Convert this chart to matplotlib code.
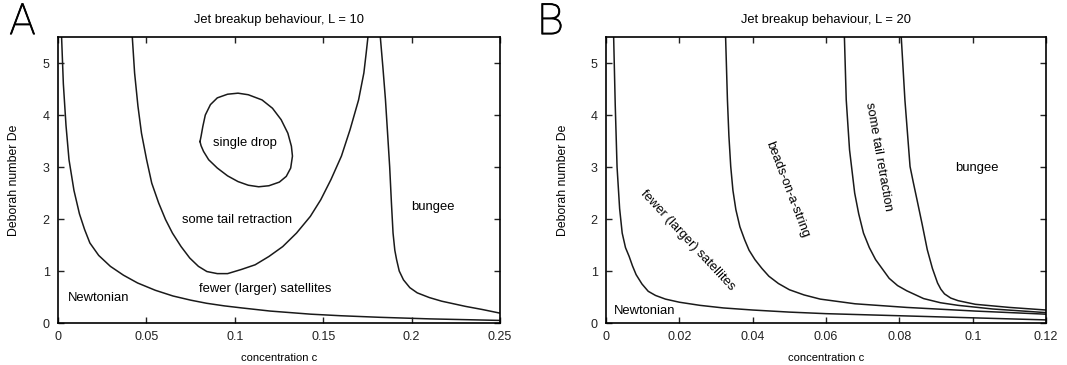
import numpy as np
import matplotlib.pyplot as plt
import matplotlib.patheffects as pe
from matplotlib.ticker import FuncFormatter

plt.rcParams['font.family'] = ['Liberation Sans', 'DejaVu Sans']

# ---- panel A, L = 10 ----
a_newt_c = [0.002, 0.003, 0.0045, 0.0062, 0.009, 0.0121, 0.015, 0.018, 0.023, 0.0296, 0.037,
            0.045, 0.055, 0.065, 0.075, 0.084, 0.094, 0.104, 0.12, 0.143, 0.16, 0.182, 0.21, 0.25]
a_newt_de = [5.5, 4.6, 3.8, 3.14, 2.55, 2.1, 1.8, 1.54, 1.3, 1.09, 0.92,
             0.77, 0.63, 0.52, 0.44, 0.38, 0.33, 0.29, 0.23, 0.17, 0.14, 0.11, 0.08, 0.05]

a_tail_c = [0.042, 0.0433, 0.0452, 0.0472, 0.0501, 0.053, 0.0569, 0.0608, 0.0647, 0.0696,
            0.0745, 0.0794, 0.0842, 0.0901, 0.0959, 0.1037, 0.1115, 0.1193, 0.1271, 0.1349,
            0.1427, 0.1486, 0.1544, 0.1603, 0.1652, 0.17, 0.173, 0.1743, 0.1753]
a_tail_de = [5.5, 4.81, 4.17, 3.65, 3.14, 2.69, 2.31, 1.99, 1.73, 1.47,
             1.25, 1.09, 0.99, 0.95, 0.95, 1.03, 1.12, 1.28, 1.47, 1.73,
             2.05, 2.37, 2.76, 3.21, 3.72, 4.29, 4.81, 5.19, 5.5]

a_drop_c = [0.0803, 0.0809, 0.0819, 0.0833, 0.0862, 0.0901, 0.0959, 0.1018, 0.1076, 0.1154,
            0.1213, 0.1262, 0.13, 0.132, 0.1326, 0.1316, 0.1291, 0.1252, 0.1193, 0.1135,
            0.1076, 0.1018, 0.0959, 0.0901, 0.0852, 0.0823, 0.0809, 0.0803]
a_drop_de = [3.49, 3.59, 3.78, 4.0, 4.2, 4.33, 4.4, 4.42, 4.39, 4.29,
             4.13, 3.91, 3.65, 3.4, 3.21, 2.98, 2.82, 2.71, 2.64, 2.62,
             2.65, 2.72, 2.83, 2.98, 3.14, 3.3, 3.41, 3.49]

a_bung_c = [0.1823, 0.1838, 0.1852, 0.1865, 0.1876, 0.1886, 0.1895, 0.1905, 0.1915, 0.193,
            0.1954, 0.199, 0.2032, 0.21, 0.217, 0.2305, 0.24, 0.25]
a_bung_de = [5.5, 4.9, 4.3, 3.6, 3.0, 2.3, 1.73, 1.4, 1.22, 1.0,
             0.83, 0.68, 0.58, 0.49, 0.42, 0.32, 0.26, 0.19]

# ---- panel B, L = 20 ----
b_newt_c = [0.00207, 0.0025, 0.003, 0.0037, 0.0044, 0.0053, 0.0063, 0.0072, 0.0082, 0.0098,
            0.0115, 0.0135, 0.0162, 0.02, 0.0256, 0.032, 0.04, 0.05, 0.06, 0.07, 0.08,
            0.09, 0.1, 0.11, 0.12]
b_newt_de = [5.5, 4.2, 3.0, 2.2, 1.73, 1.45, 1.28, 1.1, 0.93, 0.75,
             0.61, 0.53, 0.46, 0.4, 0.34, 0.29, 0.25, 0.21, 0.18, 0.16, 0.14,
             0.12, 0.1, 0.08, 0.06]

b_beads_c = [0.0326, 0.0331, 0.0335, 0.034, 0.0346, 0.0354, 0.0365, 0.0378, 0.039, 0.0406,
             0.0425, 0.0444, 0.047, 0.05, 0.054, 0.0584, 0.0679, 0.082, 0.1007, 0.12]
b_beads_de = [5.5, 4.29, 3.6, 3.01, 2.55, 2.18, 1.85, 1.6, 1.4, 1.22,
              1.05, 0.9, 0.76, 0.64, 0.54, 0.46, 0.37, 0.3, 0.23, 0.17]

b_tail_c = [0.065, 0.0655, 0.0664, 0.0678, 0.0689, 0.0702, 0.0718, 0.0735, 0.0772, 0.0795,
            0.082, 0.0866, 0.0912, 0.096, 0.1054, 0.12]
b_tail_de = [5.5, 4.29, 3.33, 2.5, 2.1, 1.73, 1.45, 1.22, 0.86, 0.72,
             0.62, 0.47, 0.39, 0.34, 0.27, 0.2]

b_bung_c = [0.0805, 0.0815, 0.0829, 0.0838, 0.0848, 0.0862, 0.0876, 0.089, 0.0904, 0.0913,
            0.0923, 0.094, 0.096, 0.1007, 0.11, 0.12]
b_bung_de = [5.5, 4.29, 3.01, 2.7, 2.37, 1.9, 1.41, 1.05, 0.77, 0.65,
             0.56, 0.48, 0.43, 0.36, 0.3, 0.25]

fmt = FuncFormatter(lambda v, p: '%g' % v)

fig = plt.figure(figsize=(10.67, 3.65), dpi=100)
axA = fig.add_axes([0.0544, 0.115, 0.4142, 0.7836])
axB = fig.add_axes([0.568, 0.115, 0.4124, 0.7836])

for ax, curves in [(axA, [(a_newt_c, a_newt_de), (a_tail_c, a_tail_de),
                          (a_drop_c, a_drop_de), (a_bung_c, a_bung_de)]),
                   (axB, [(b_newt_c, b_newt_de), (b_beads_c, b_beads_de),
                          (b_tail_c, b_tail_de), (b_bung_c, b_bung_de)])]:
    for c, de in curves:
        ax.plot(c, de, color='#1a1a1a', lw=1.1, solid_joinstyle='round')
    ax.set_ylim(0, 5.5)
    ax.set_yticks([0, 1, 2, 3, 4, 5])
    ax.xaxis.set_major_formatter(fmt)
    ax.tick_params(direction='in', length=4, width=1, top=True, right=True,
                   labelsize=9, pad=6, colors='#222222')
    for s in ax.spines.values():
        s.set_linewidth(1.2)
    ax.set_xlabel('concentration c', fontsize=8, labelpad=7)
    ax.set_ylabel('Deborah number De', fontsize=8.8, labelpad=16)

axA.set_xlim(0, 0.25)
axA.set_xticks([0, 0.05, 0.1, 0.15, 0.2, 0.25])
axA.set_title('Jet breakup behaviour, L = 10', fontsize=9.3, pad=10)
axB.set_xlim(0, 0.12)
axB.set_xticks([0, 0.02, 0.04, 0.06, 0.08, 0.1, 0.12])
axB.set_title('Jet breakup behaviour, L = 20', fontsize=9.3, pad=10)

tk = dict(fontsize=9.4, ha='center', va='center')
axA.text(0.1055, 3.47, 'single drop', **tk)
axA.text(0.1014, 1.99, 'some tail retraction', **tk)
axA.text(0.212, 2.23, 'bungee', **tk)
axA.text(0.1174, 0.66, 'fewer (larger) satellites', **tk)
axA.text(0.0228, 0.49, 'Newtonian', **tk)

axB.text(0.0223, 1.6, 'fewer (larger) satellites', rotation=-47, **tk)
axB.text(0.0495, 2.56, 'beads-on-a-string', rotation=-69, **tk)
axB.text(0.0742, 3.2, 'some tail retraction', rotation=-80, **tk)
axB.text(0.1012, 2.98, 'bungee', **tk)
axB.text(0.0105, 0.24, 'Newtonian', **tk)

# thin panel letters, stroked a little so they are not hairlines
thick = [pe.withStroke(linewidth=0.6, foreground='black')]
fig.text(0.021, 0.938, 'A', fontsize=31, family=['Roboto', 'DejaVu Sans'],
         fontweight='light', ha='center', va='center', path_effects=thick)
fig.text(0.516, 0.938, 'B', fontsize=31, family=['Roboto', 'DejaVu Sans'],
         fontweight='light', ha='center', va='center', path_effects=thick)

fig.savefig('out.png', dpi=100)
